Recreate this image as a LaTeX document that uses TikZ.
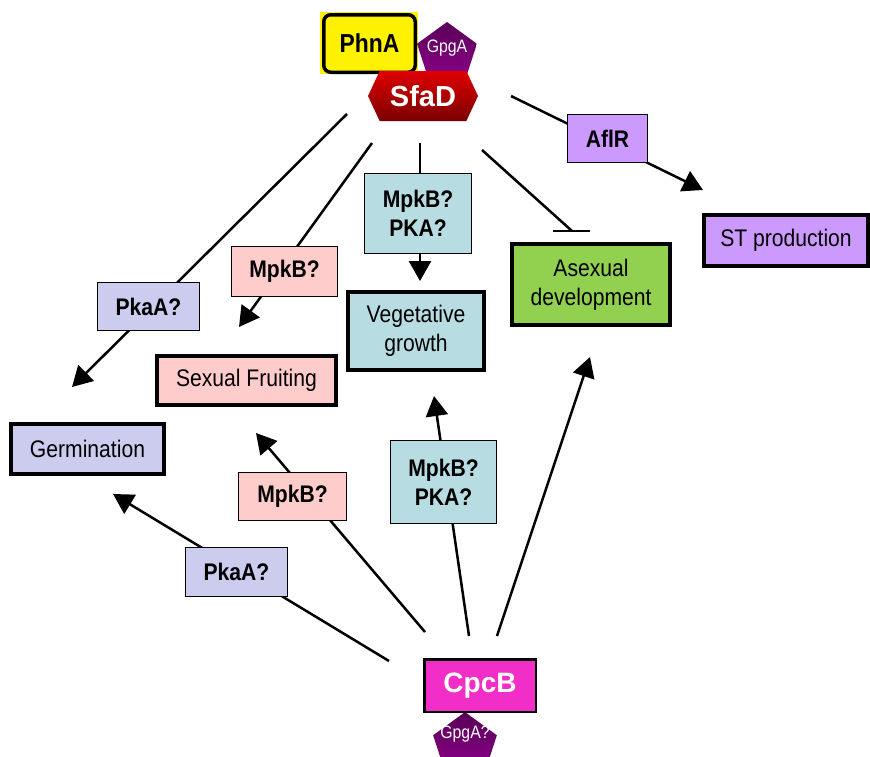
\documentclass[tikz,border=0pt]{standalone}
\usepackage{fontspec}
\setmainfont{Liberation Sans}
\newfontfamily\condfont[FakeStretch=0.88]{Liberation Sans}
\usetikzlibrary{arrows.meta,shapes.geometric,shapes.symbols}
\pgfdeclarelayer{bg}
\pgfsetlayers{bg,main}
\definecolor{lav}{HTML}{CCCCEE}
\definecolor{pinkbox}{HTML}{FFCCCC}
\definecolor{tealbox}{HTML}{B7DDE3}
\definecolor{greenbox}{HTML}{92D050}
\definecolor{purpbox}{HTML}{CC99FF}
\definecolor{magbox}{HTML}{F22EC8}
\definecolor{gpgtop}{HTML}{5A0058}
\definecolor{gpgbot}{HTML}{8A0088}
\definecolor{sfatop}{HTML}{E00000}
\definecolor{sfabot}{HTML}{7A0000}
\begin{document}
\begin{tikzpicture}[x=1pt,y=-1pt,
  bigbox/.style={draw=black, line width=4pt, inner sep=0pt, align=center,
    font=\condfont\fontsize{24}{29}\selectfont},
  labbox/.style={draw=black, line width=1.2pt, inner sep=0pt, align=center,
    font=\condfont\bfseries\fontsize{24}{29}\selectfont},
  conn/.style={line width=2.5pt, -{Triangle[length=20pt,width=22pt]}},
  inh/.style={line width=2.5pt},
  penta/.style={regular polygon, regular polygon sides=5, inner sep=0pt,
    top color=gpgtop, bottom color=gpgbot},
  pentatext/.style={text=white, inner sep=0pt, font=\condfont\fontsize{18}{18}\selectfont}
]
\useasboundingbox (0,0) rectangle (870,756);

% top complex
\node[fill=yellow, minimum width=98, minimum height=62, inner sep=0pt] (phnbg) at (369,43) {};
\node[penta, minimum size=63] (gp1) at (447,53.5) {};
\node[pentatext] (gp1t) at (447,48.5) {GpgA};
\node[draw=black, line width=3.5pt, rounded corners=7pt, fill=yellow,
  minimum width=91.5, minimum height=57.5, inner sep=0pt,
  font=\condfont\bfseries\fontsize{26}{26}\selectfont] (phna) at (369.5,43.5) {PhnA};
\node[signal, signal to=west and east, signal pointer angle=130,
  top color=sfatop, bottom color=sfabot, minimum width=110, minimum height=50,
  inner sep=0pt, text=white, font=\bfseries\fontsize{29}{29}\selectfont] (sfad) at (423,96) {SfaD};

% bottom complex
\node[penta, minimum size=67] (gp2) at (465,745.6) {};
\node[pentatext] (gp2t) at (465,734) {GpgA?};
\node[draw=black, line width=2.5pt, fill=magbox, minimum width=111.5, minimum height=52.5,
  inner sep=0pt, text=white, font=\bfseries\fontsize{28}{28}\selectfont] (cpcb) at (480,685.5) {CpcB};

% outcome boxes
\node[bigbox, fill=lav, minimum width=153, minimum height=50] (germ) at (87.5,449) {Germination};
\node[bigbox, fill=pinkbox, minimum width=179, minimum height=49] (sex) at (246.5,380.5) {Sexual Fruiting};
\node[bigbox, fill=tealbox, minimum width=136, minimum height=78] (veg) at (416,331) {Vegetative\\growth};
\node[bigbox, fill=greenbox, minimum width=158, minimum height=81] (asex) at (591,284.5) {Asexual\\development};
\node[bigbox, fill=purpbox, minimum width=164, minimum height=51] (st) at (786,240.5) {ST production};

% mediator labels
\node[labbox, fill=purpbox, minimum width=80, minimum height=48] (aflr) at (607.5,138.5) {AflR};
\node[labbox, fill=tealbox, minimum width=107, minimum height=80] (mp1) at (418,213.5) {MpkB?\\PKA?};
\node[labbox, fill=pinkbox, minimum width=106, minimum height=50] (mb1) at (284.5,271.5) {MpkB?};
\node[labbox, fill=lav, minimum width=102, minimum height=48] (pk1) at (148.5,306.5) {PkaA?};
\node[labbox, fill=pinkbox, minimum width=108, minimum height=48] (mb2) at (292.5,496.5) {MpkB?};
\node[labbox, fill=tealbox, minimum width=106, minimum height=83] (mp2) at (443.5,482) {MpkB?\\PKA?};
\node[labbox, fill=lav, minimum width=102, minimum height=49] (pk2) at (236.5,572) {PkaA?};

% connector end points
\coordinate (g1s) at (347,114);  \coordinate (g1e) at (72,387);
\coordinate (f1s) at (372,143);  \coordinate (f1e) at (239,327);
\coordinate (v1s) at (420,143);  \coordinate (v1e) at (420,281);
\coordinate (a1s) at (482,150);  \coordinate (a1e) at (572,231);
\coordinate (tb1) at (553,231);  \coordinate (tb2) at (590,231);
\coordinate (s1s) at (511,96);   \coordinate (s1e) at (703,190);
\coordinate (g2s) at (389,661);  \coordinate (g2e) at (113,494);
\coordinate (f2s) at (425,632);  \coordinate (f2e) at (256,433);
\coordinate (v2s) at (469,636);  \coordinate (v2e) at (434,396);
\coordinate (a2s) at (497,636);  \coordinate (a2e) at (590,357);

\begin{pgfonlayer}{bg}
\draw[conn] (g1s) -- (g1e);
\draw[conn] (f1s) -- (f1e);
\draw[conn] (v1s) -- (v1e);
\draw[inh] (a1s) -- (a1e);
\draw[inh] (tb1) -- (tb2);
\draw[conn] (s1s) -- (s1e);
\draw[conn] (g2s) -- (g2e);
\draw[conn] (f2s) -- (f2e);
\draw[conn] (v2s) -- (v2e);
\draw[conn] (a2s) -- (a2e);
\end{pgfonlayer}
\end{tikzpicture}
\end{document}
